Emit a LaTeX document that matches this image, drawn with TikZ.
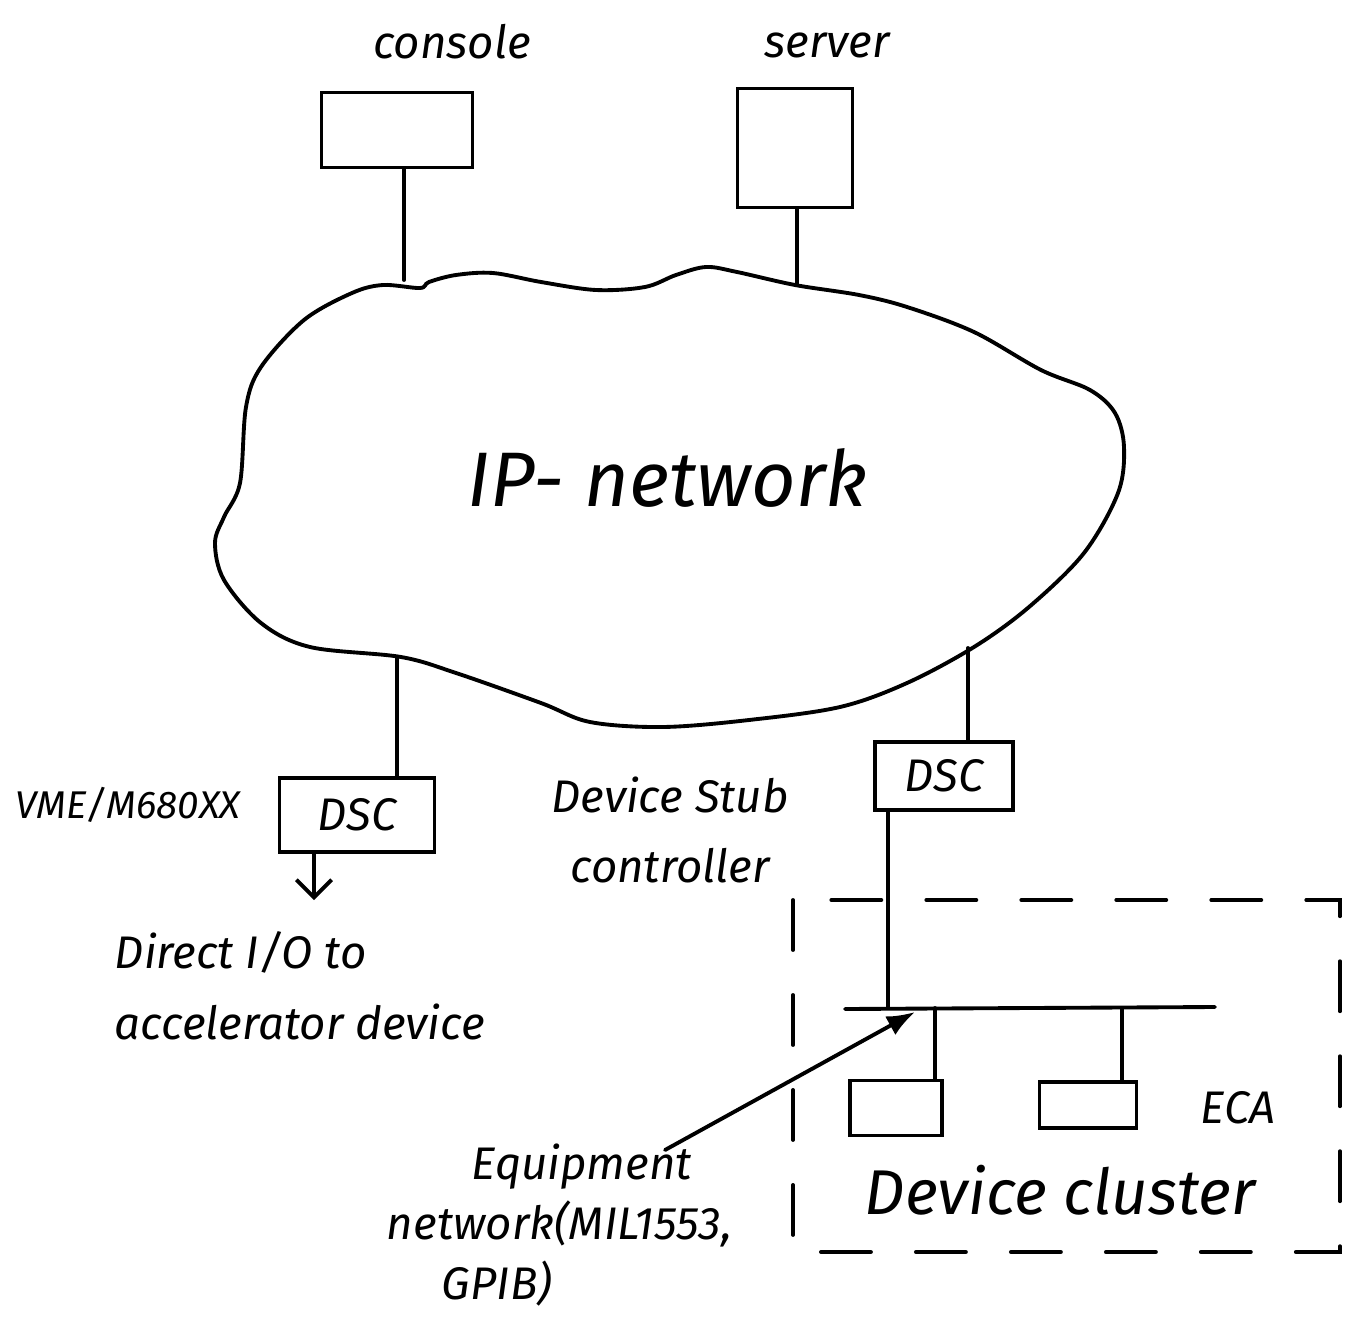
\documentclass[tikz,border=0pt]{standalone}
\usepackage{fontspec}
\setmainfont{Fira Sans}
\usetikzlibrary{positioning,arrows.meta}

\tikzset{
  box/.style={draw, line width=2pt, inner sep=0pt},
  lbl/.style={font=\itshape\fontsize{26}{40}\selectfont, inner sep=0pt},
  biglbl/.style={font=\itshape\fontsize{44}{50}\selectfont, inner sep=0pt},
}

\begin{document}
\begin{tikzpicture}[x=0.02cm,y=-0.02cm, line width=2.2pt, line cap=round]
\useasboundingbox (0,0) rectangle (1345,1321);

% top machines
\node[box, minimum width=3.02cm, minimum height=1.5cm] (console) at (397,130) {};
\node[lbl] at (452,42) {console};
\node[box, minimum width=2.3cm, minimum height=2.38cm] (server) at (795,148) {};
\node[lbl] at (827,45) {server};

% the cloud
\draw plot[smooth cycle, tension=0.55] coordinates {
  (383,285) (420,288) (429,282) (456,275) (493,273) (541,282) (596,290)
  (645,287) (676,275) (706,267) (737,272) (795,285) (859,295) (907,307)
  (974,332) (1041,370) (1090,390) (1115,413) (1124,447) (1118,493)
  (1084,553) (1029,607) (974,647) (907,683) (840,707) (749,720) (663,727)
  (590,722) (541,703) (456,673) (401,657) (310,647) (261,623) (224,580)
  (215,543) (224,517) (240,483) (246,407) (261,367) (304,320) (352,293)};
\node[biglbl] (ipnet) at (668,478) {IP- network};

\coordinate (ipA) at (404,280);
\coordinate (ipB) at (797,285);
\coordinate (ipC) at (397,657);
\coordinate (ipD) at (968,648);

\draw (ipA |- console.south) -- (ipA);
\draw (ipB |- server.south) -- (ipB);

% stub controllers
\node[box, minimum width=3.1cm, minimum height=1.48cm, lbl] (dscvme) at (357,815) {DSC};
\node[lbl, font=\itshape\fontsize{22}{26}\selectfont] at (128,805) {VME/M680XX};
\draw (ipC) -- (ipC |- dscvme.north);

\node[box, minimum width=2.76cm, minimum height=1.36cm, lbl] (dscstub) at (944,776) {DSC};
\draw (ipD) -- (ipD |- dscstub.north);

\node[lbl, align=center] at (670,830) {Device Stub\\controller};

% direct i/o
\coordinate (dioarr) at (314,900);
\draw[-{Straight Barb[length=10pt,width=20pt]}] (dioarr |- dscvme.south) -- (dioarr);
\node[lbl, align=left, anchor=north west] (dio) at (113,930) {Direct I/O to\\accelerator device};

% device cluster
\coordinate (busL) at (845,1009);
\coordinate (busR) at (1215,1007);
\coordinate (tap) at (888,1008);
\draw (busL) -- (busR);
\draw (tap |- dscstub.south) -- (tap);

\node[box, minimum width=1.84cm, minimum height=1.1cm] (devA) at (896,1108) {};
\node[box, minimum width=1.94cm, minimum height=0.92cm] (devB) at (1088,1105) {};
\coordinate (stubA) at (935,1008);
\coordinate (stubB) at (1122,1008);
\draw (stubA) -- (stubA |- devA.north);
\draw (stubB) -- (stubB |- devB.north);

\node[lbl] at (1238,1108) {ECA};
\node[lbl, font=\itshape\fontsize{36}{40}\selectfont] at (1060,1190) {Device cluster};
\draw[dashed, dash pattern=on 1cm off 0.9cm] (793,900) rectangle (1340,1252);

% equipment network
\node[lbl, align=left, anchor=north west, font=\itshape\fontsize{26}{34}\selectfont] (eqnet) at (385,1142) {\hspace*{1.7cm}Equipment\\network(MIL1553,\\\hspace*{1.1cm}GPIB)};
\coordinate (eqtip) at (915,1012);
\draw[-{Latex[length=16pt,width=12pt]}] (665,1150) -- (eqtip);

\end{tikzpicture}
\end{document}
